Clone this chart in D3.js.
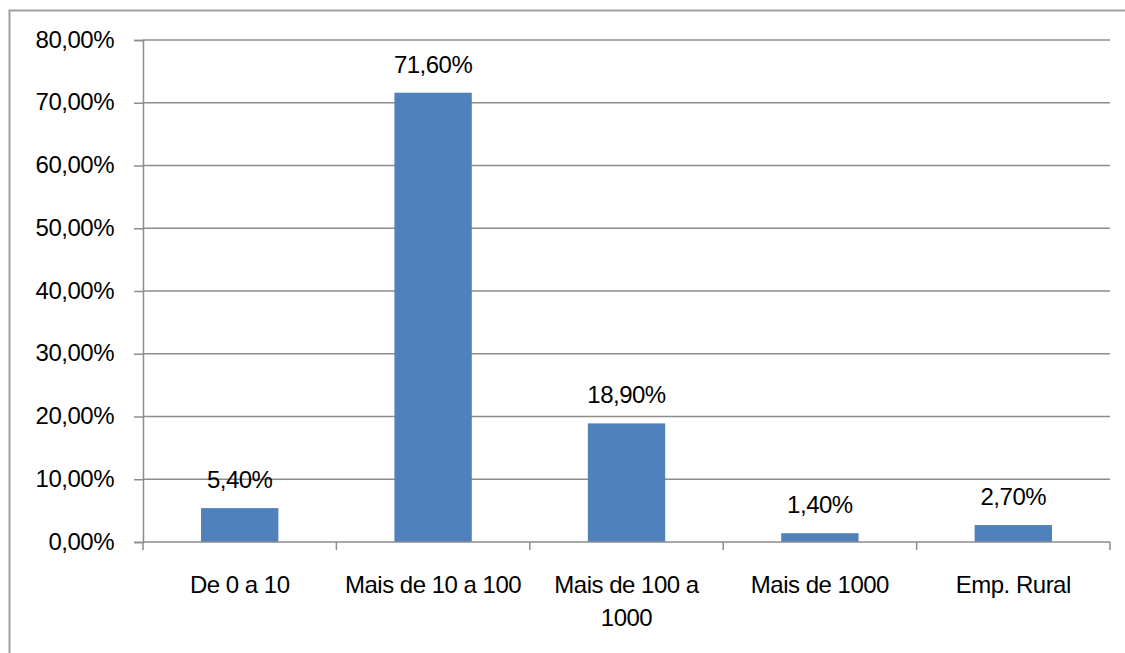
<!DOCTYPE html>
<html>
<head>
<meta charset="utf-8">
<script src="https://cdn.jsdelivr.net/npm/d3@7"></script>
<style>
  body { margin: 0; background: #fff; }
  svg text { font-family: "Liberation Sans", Arial, sans-serif; fill: #000; letter-spacing: -0.5px; }
</style>
</head>
<body>
<svg id="chart" width="1125" height="653"></svg>
<script>
const categories = ['De 0 a 10', 'Mais de 10 a 100', 'Mais de 100 a 1000', 'Mais de 1000', 'Emp. Rural'];
const values = [5.4, 71.6, 18.9, 1.4, 2.7];
const yTicks = [0, 10, 20, 30, 40, 50, 60, 70, 80];

const fmt = v => v.toFixed(2).replace('.', ',') + '%';

const svg = d3.select('#chart');
const margin = { left: 143, right: 1110, top: 40, bottom: 542 };
const fontSize = '24px';

// chart border
svg.append('rect')
    .attr('x', 9.5).attr('y', 10.5)
    .attr('width', 1130).attr('height', 660)
    .attr('fill', 'none').attr('stroke', '#a0a0a0').attr('stroke-width', 2);

const x = d3.scaleBand().domain(categories).range([margin.left, margin.right]).paddingInner(0.6).paddingOuter(0.3);
const y = d3.scaleLinear().domain([0, 80]).range([margin.bottom, margin.top]);

// gridlines
svg.append('g').selectAll('line').data(yTicks.slice(1)).join('line')
    .attr('x1', margin.left).attr('x2', margin.right)
    .attr('y1', d => y(d)).attr('y2', d => y(d))
    .attr('stroke', '#8c8c8c').attr('stroke-width', 1.5);

// y axis
const yAxis = svg.append('g').attr('transform', `translate(${margin.left},0)`)
    .call(d3.axisLeft(y).tickValues(yTicks).tickFormat(fmt).tickSize(9).tickPadding(20));
yAxis.select('.domain').attr('stroke', '#8c8c8c').attr('stroke-width', 1.5);
yAxis.selectAll('.tick line').attr('stroke', '#8c8c8c').attr('stroke-width', 1.5);
yAxis.selectAll('.tick text').style('font-size', fontSize).attr('dy', '0.3em');

// bars
svg.append('g').selectAll('rect').data(values).join('rect')
    .attr('x', (d, i) => x(categories[i]))
    .attr('y', d => y(d))
    .attr('width', x.bandwidth())
    .attr('height', d => y(0) - y(d))
    .attr('fill', '#4f81bd');

// value labels
svg.append('g').selectAll('text').data(values).join('text')
    .attr('x', (d, i) => x(categories[i]) + x.bandwidth() / 2)
    .attr('y', d => y(d) - 20)
    .attr('text-anchor', 'middle')
    .style('font-size', fontSize)
    .text(d => fmt(d));

// x axis
const step = (margin.right - margin.left) / categories.length;
const xAxis = svg.append('g');
xAxis.append('line')
    .attr('x1', margin.left).attr('x2', margin.right)
    .attr('y1', y(0)).attr('y2', y(0))
    .attr('stroke', '#8c8c8c').attr('stroke-width', 1.5);
xAxis.selectAll('.xt').data(d3.range(categories.length + 1)).join('line')
    .attr('class', 'xt')
    .attr('x1', i => margin.left + i * step).attr('x2', i => margin.left + i * step)
    .attr('y1', y(0)).attr('y2', y(0) + 8)
    .attr('stroke', '#8c8c8c').attr('stroke-width', 1.5);

const wrapped = { 'Mais de 100 a 1000': ['Mais de 100 a', '1000'] };
xAxis.selectAll('.xl').data(categories).join('text')
    .attr('class', 'xl')
    .attr('x', d => x(d) + x.bandwidth() / 2)
    .attr('y', y(0) + 51)
    .attr('text-anchor', 'middle')
    .style('font-size', fontSize)
    .each(function (d) {
        const lines = wrapped[d] || [d];
        d3.select(this).selectAll('tspan').data(lines).join('tspan')
            .attr('x', x(d) + x.bandwidth() / 2)
            .attr('dy', (l, i) => i === 0 ? 0 : 33)
            .text(l => l);
    });
</script>
</body>
</html>
